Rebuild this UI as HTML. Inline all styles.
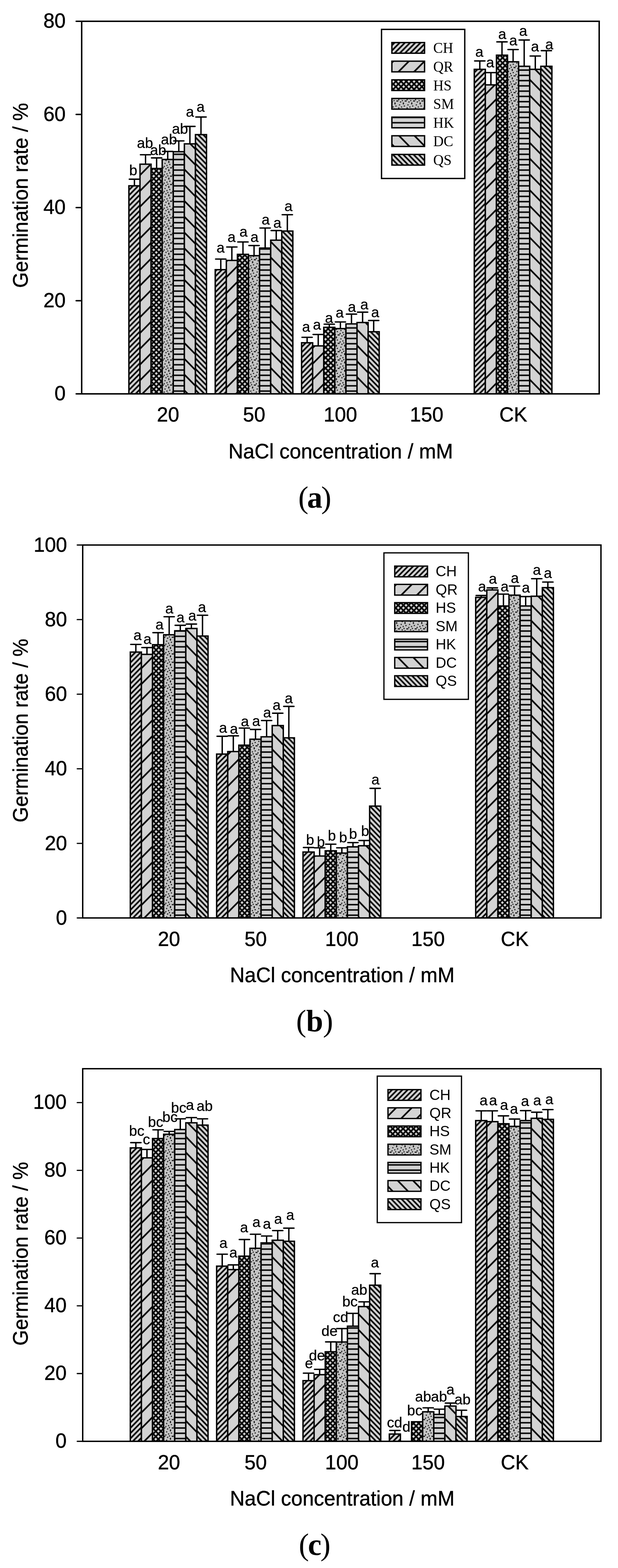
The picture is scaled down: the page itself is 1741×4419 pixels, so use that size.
<!DOCTYPE html>
<html lang="en"><head><meta charset="utf-8"><title>Germination rate under NaCl concentration</title>
<style>html,body{margin:0;padding:0;background:#fff}svg{display:block}text{font-family:"Liberation Sans",Arial,sans-serif;fill:#000}.ser{font-family:"Liberation Serif","Times New Roman",serif}</style></head><body>
<svg width="1741" height="4419" viewBox="0 0 1741 4419">
<rect x="0" y="0" width="1741" height="4419" fill="#fff"/>
<defs><pattern id="aCH" patternUnits="userSpaceOnUse" x="0" y="13.07" width="14.669" height="14.830"><rect width="14.669" height="14.830" fill="#d3d3d3"/><path d="M-14.67 14.83L29.34 -29.66M-14.67 29.66L29.34 -14.83M-14.67 44.49L29.34 0.00" stroke="#000" stroke-width="4.5" fill="none"/></pattern><pattern id="aQR" patternUnits="userSpaceOnUse" x="0" y="2.49" width="44.006" height="44.490"><rect width="44.006" height="44.490" fill="#d3d3d3"/><path d="M-44.01 44.49L88.01 -88.98M-44.01 88.98L88.01 -44.49M-44.01 133.47L88.01 0.00" stroke="#000" stroke-width="4.6" fill="none"/></pattern><pattern id="aHS" patternUnits="userSpaceOnUse" x="0" y="7.25" width="14.669" height="14.830"><rect width="14.669" height="14.830" fill="#d3d3d3"/><path d="M-14.67 14.83L29.34 -29.66M-14.67 29.66L29.34 -14.83M-14.67 44.49L29.34 0.00" stroke="#000" stroke-width="4.4" fill="none"/></pattern><pattern id="aHS2" patternUnits="userSpaceOnUse" x="0" y="6.69" width="14.669" height="14.830"><path d="M-14.67 -29.66L29.34 14.83M-14.67 -14.83L29.34 29.66M-14.67 0.00L29.34 44.49" stroke="#000" stroke-width="4.4" fill="none"/></pattern><pattern id="aSM" patternUnits="userSpaceOnUse" x="9.40" y="22.59" width="23.6" height="23.55"><rect width="23.6" height="23.55" fill="#c4c4c4"/><path d="M0.50 1.50h3.0v3.00h-3.0zM21.40 1.50h3.0v3.00h-3.0zM-2.20 1.50h3.0v3.00h-3.0zM8.40 4.26h3.0v3.00h-3.0zM16.30 7.00h3.0v5.40h-3.0zM5.60 12.50h3.0v3.00h-3.0zM19.00 15.70h3.0v3.00h-3.0zM11.10 18.40h3.0v3.00h-3.0zM3.26 21.20h3.0v3.00h-3.0zM3.26 -2.35h3.0v3.00h-3.0zM13.50 0.45h3.0v3.00h-3.0z" fill="#000"/></pattern><pattern id="aHK" patternUnits="userSpaceOnUse" x="0" y="12.18" width="40" height="14.830"><rect width="40" height="14.830" fill="#d3d3d3"/><rect x="0" y="5.365" width="40" height="4.1" fill="#000"/></pattern><pattern id="aDC" patternUnits="userSpaceOnUse" x="0" y="36.20" width="43.596" height="44.490"><rect width="43.596" height="44.490" fill="#d3d3d3"/><path d="M-43.60 -88.98L87.19 44.49M-43.60 -44.49L87.19 88.98M-43.60 0.00L87.19 133.47" stroke="#000" stroke-width="4.6" fill="none"/></pattern><pattern id="aQS" patternUnits="userSpaceOnUse" x="0" y="3.02" width="14.532" height="14.830"><rect width="14.532" height="14.830" fill="#d3d3d3"/><path d="M-14.53 -29.66L29.06 14.83M-14.53 -14.83L29.06 29.66M-14.53 0.00L29.06 44.49" stroke="#000" stroke-width="4.5" fill="none"/></pattern><pattern id="bCH" patternUnits="userSpaceOnUse" x="0" y="14.32" width="14.669" height="14.830"><rect width="14.669" height="14.830" fill="#d3d3d3"/><path d="M-14.67 14.83L29.34 -29.66M-14.67 29.66L29.34 -14.83M-14.67 44.49L29.34 0.00" stroke="#000" stroke-width="4.5" fill="none"/></pattern><pattern id="bQR" patternUnits="userSpaceOnUse" x="0" y="17.15" width="44.006" height="44.490"><rect width="44.006" height="44.490" fill="#d3d3d3"/><path d="M-44.01 44.49L88.01 -88.98M-44.01 88.98L88.01 -44.49M-44.01 133.47L88.01 0.00" stroke="#000" stroke-width="4.6" fill="none"/></pattern><pattern id="bHS" patternUnits="userSpaceOnUse" x="0" y="7.47" width="14.669" height="14.830"><rect width="14.669" height="14.830" fill="#d3d3d3"/><path d="M-14.67 14.83L29.34 -29.66M-14.67 29.66L29.34 -14.83M-14.67 44.49L29.34 0.00" stroke="#000" stroke-width="4.4" fill="none"/></pattern><pattern id="bHS2" patternUnits="userSpaceOnUse" x="0" y="8.13" width="14.669" height="14.830"><path d="M-14.67 -29.66L29.34 14.83M-14.67 -14.83L29.34 29.66M-14.67 0.00L29.34 44.49" stroke="#000" stroke-width="4.4" fill="none"/></pattern><pattern id="bSM" patternUnits="userSpaceOnUse" x="14.00" y="3.13" width="23.6" height="23.55"><rect width="23.6" height="23.55" fill="#c4c4c4"/><path d="M0.50 1.50h3.0v3.00h-3.0zM21.40 1.50h3.0v3.00h-3.0zM-2.20 1.50h3.0v3.00h-3.0zM8.40 4.26h3.0v3.00h-3.0zM16.30 7.00h3.0v5.40h-3.0zM5.60 12.50h3.0v3.00h-3.0zM19.00 15.70h3.0v3.00h-3.0zM11.10 18.40h3.0v3.00h-3.0zM3.26 21.20h3.0v3.00h-3.0zM3.26 -2.35h3.0v3.00h-3.0zM13.50 0.45h3.0v3.00h-3.0z" fill="#000"/></pattern><pattern id="bHK" patternUnits="userSpaceOnUse" x="0" y="6.24" width="40" height="14.830"><rect width="40" height="14.830" fill="#d3d3d3"/><rect x="0" y="5.365" width="40" height="4.1" fill="#000"/></pattern><pattern id="bDC" patternUnits="userSpaceOnUse" x="0" y="33.53" width="43.299" height="44.490"><rect width="43.299" height="44.490" fill="#d3d3d3"/><path d="M-43.30 -88.98L86.60 44.49M-43.30 -44.49L86.60 88.98M-43.30 0.00L86.60 133.47" stroke="#000" stroke-width="4.6" fill="none"/></pattern><pattern id="bQS" patternUnits="userSpaceOnUse" x="0" y="0.07" width="14.433" height="14.830"><rect width="14.433" height="14.830" fill="#d3d3d3"/><path d="M-14.43 -29.66L28.87 14.83M-14.43 -14.83L28.87 29.66M-14.43 0.00L28.87 44.49" stroke="#000" stroke-width="4.5" fill="none"/></pattern><pattern id="cCH" patternUnits="userSpaceOnUse" x="0" y="5.94" width="14.669" height="14.830"><rect width="14.669" height="14.830" fill="#d3d3d3"/><path d="M-14.67 14.83L29.34 -29.66M-14.67 29.66L29.34 -14.83M-14.67 44.49L29.34 0.00" stroke="#000" stroke-width="4.5" fill="none"/></pattern><pattern id="cQR" patternUnits="userSpaceOnUse" x="0" y="23.75" width="44.006" height="44.490"><rect width="44.006" height="44.490" fill="#d3d3d3"/><path d="M-44.01 44.49L88.01 -88.98M-44.01 88.98L88.01 -44.49M-44.01 133.47L88.01 0.00" stroke="#000" stroke-width="4.6" fill="none"/></pattern><pattern id="cHS" patternUnits="userSpaceOnUse" x="0" y="13.41" width="14.669" height="14.830"><rect width="14.669" height="14.830" fill="#d3d3d3"/><path d="M-14.67 14.83L29.34 -29.66M-14.67 29.66L29.34 -14.83M-14.67 44.49L29.34 0.00" stroke="#000" stroke-width="4.4" fill="none"/></pattern><pattern id="cHS2" patternUnits="userSpaceOnUse" x="0" y="1.16" width="14.669" height="14.830"><path d="M-14.67 -29.66L29.34 14.83M-14.67 -14.83L29.34 29.66M-14.67 0.00L29.34 44.49" stroke="#000" stroke-width="4.4" fill="none"/></pattern><pattern id="cSM" patternUnits="userSpaceOnUse" x="14.00" y="17.90" width="23.6" height="23.55"><rect width="23.6" height="23.55" fill="#c4c4c4"/><path d="M0.50 1.50h3.0v3.00h-3.0zM21.40 1.50h3.0v3.00h-3.0zM-2.20 1.50h3.0v3.00h-3.0zM8.40 4.26h3.0v3.00h-3.0zM16.30 7.00h3.0v5.40h-3.0zM5.60 12.50h3.0v3.00h-3.0zM19.00 15.70h3.0v3.00h-3.0zM11.10 18.40h3.0v3.00h-3.0zM3.26 21.20h3.0v3.00h-3.0zM3.26 -2.35h3.0v3.00h-3.0zM13.50 0.45h3.0v3.00h-3.0z" fill="#000"/></pattern><pattern id="cHK" patternUnits="userSpaceOnUse" x="0" y="12.97" width="40" height="14.830"><rect width="40" height="14.830" fill="#d3d3d3"/><rect x="0" y="5.365" width="40" height="4.1" fill="#000"/></pattern><pattern id="cDC" patternUnits="userSpaceOnUse" x="0" y="40.53" width="43.299" height="44.490"><rect width="43.299" height="44.490" fill="#d3d3d3"/><path d="M-43.30 -88.98L86.60 44.49M-43.30 -44.49L86.60 88.98M-43.30 0.00L86.60 133.47" stroke="#000" stroke-width="4.6" fill="none"/></pattern><pattern id="cQS" patternUnits="userSpaceOnUse" x="0" y="7.13" width="14.433" height="14.830"><rect width="14.433" height="14.830" fill="#d3d3d3"/><path d="M-14.43 -29.66L28.87 14.83M-14.43 -14.83L28.87 29.66M-14.43 0.00L28.87 44.49" stroke="#000" stroke-width="4.5" fill="none"/></pattern></defs>
<g>
<path d="M378.7 523.6V505M364.2 505H393.2" stroke="#000" stroke-width="3.9" stroke-linecap="round" fill="none"/>
<rect x="363.1" y="523.6" width="31.2" height="586.4" fill="url(#aCH)" stroke="#000" stroke-width="3.9"/>
<path d="M622 760V730.1M607.4 730.1H636.5" stroke="#000" stroke-width="3.9" stroke-linecap="round" fill="none"/>
<rect x="606.3" y="760" width="31.2" height="350" fill="url(#aCH)" stroke="#000" stroke-width="3.9"/>
<path d="M865.2 966V950.6M850.7 950.6H879.7" stroke="#000" stroke-width="3.9" stroke-linecap="round" fill="none"/>
<rect x="849.6" y="966" width="31.2" height="144" fill="url(#aCH)" stroke="#000" stroke-width="3.9"/>
<path d="M1351.7 195.4V171.8M1337.2 171.8H1366.2" stroke="#000" stroke-width="3.9" stroke-linecap="round" fill="none"/>
<rect x="1336.1" y="195.4" width="31.2" height="914.5" fill="url(#aCH)" stroke="#000" stroke-width="3.9"/>
<path d="M410 462.7V436.1M395.5 436.1H424.5" stroke="#000" stroke-width="3.9" stroke-linecap="round" fill="none"/>
<rect x="394.4" y="462.7" width="31.2" height="647.2" fill="url(#aQR)" stroke="#000" stroke-width="3.9"/>
<path d="M653.2 733.9V696.1M638.7 696.1H667.7" stroke="#000" stroke-width="3.9" stroke-linecap="round" fill="none"/>
<rect x="637.6" y="733.9" width="31.2" height="376" fill="url(#aQR)" stroke="#000" stroke-width="3.9"/>
<path d="M896.5 974.8V942.6M881.9 942.6H911" stroke="#000" stroke-width="3.9" stroke-linecap="round" fill="none"/>
<rect x="880.8" y="974.8" width="31.2" height="135.1" fill="url(#aQR)" stroke="#000" stroke-width="3.9"/>
<path d="M1383 239.2V204.6M1368.4 204.6H1397.5" stroke="#000" stroke-width="3.9" stroke-linecap="round" fill="none"/>
<rect x="1367.3" y="239.2" width="31.2" height="870.8" fill="url(#aQR)" stroke="#000" stroke-width="3.9"/>
<path d="M441.2 474.8V445M426.7 445H455.8" stroke="#000" stroke-width="3.9" stroke-linecap="round" fill="none"/>
<rect x="425.6" y="474.8" width="31.2" height="635.1" fill="url(#aHS)"/>
<rect x="425.6" y="474.8" width="31.2" height="635.1" fill="url(#aHS2)" stroke="#000" stroke-width="3.9"/>
<path d="M684.5 716.8V681.9M669.9 681.9H699" stroke="#000" stroke-width="3.9" stroke-linecap="round" fill="none"/>
<rect x="668.8" y="716.8" width="31.2" height="393.2" fill="url(#aHS)"/>
<rect x="668.8" y="716.8" width="31.2" height="393.2" fill="url(#aHS2)" stroke="#000" stroke-width="3.9"/>
<path d="M927.7 922.5V913.6M913.2 913.6H942.2" stroke="#000" stroke-width="3.9" stroke-linecap="round" fill="none"/>
<rect x="912.1" y="922.5" width="31.2" height="187.4" fill="url(#aHS)"/>
<rect x="912.1" y="922.5" width="31.2" height="187.4" fill="url(#aHS2)" stroke="#000" stroke-width="3.9"/>
<path d="M1414.2 155.5V118M1399.7 118H1428.7" stroke="#000" stroke-width="3.9" stroke-linecap="round" fill="none"/>
<rect x="1398.6" y="155.5" width="31.2" height="954.4" fill="url(#aHS)"/>
<rect x="1398.6" y="155.5" width="31.2" height="954.4" fill="url(#aHS2)" stroke="#000" stroke-width="3.9"/>
<path d="M472.5 449.4V426.7M458 426.7H487" stroke="#000" stroke-width="3.9" stroke-linecap="round" fill="none"/>
<rect x="456.9" y="449.4" width="31.2" height="660.5" fill="url(#aSM)" stroke="#000" stroke-width="3.9"/>
<path d="M715.7 720.6V692M701.2 692H730.2" stroke="#000" stroke-width="3.9" stroke-linecap="round" fill="none"/>
<rect x="700.1" y="720.6" width="31.2" height="389.3" fill="url(#aSM)" stroke="#000" stroke-width="3.9"/>
<path d="M959 926.1V907.4M944.4 907.4H973.5" stroke="#000" stroke-width="3.9" stroke-linecap="round" fill="none"/>
<rect x="943.3" y="926.1" width="31.2" height="183.9" fill="url(#aSM)" stroke="#000" stroke-width="3.9"/>
<path d="M1445.5 174.1V139.6M1430.9 139.6H1460" stroke="#000" stroke-width="3.9" stroke-linecap="round" fill="none"/>
<rect x="1429.8" y="174.1" width="31.2" height="935.8" fill="url(#aSM)" stroke="#000" stroke-width="3.9"/>
<path d="M503.7 427.5V397.1M489.2 397.1H518.2" stroke="#000" stroke-width="3.9" stroke-linecap="round" fill="none"/>
<rect x="488.1" y="427.5" width="31.2" height="682.4" fill="url(#aHK)" stroke="#000" stroke-width="3.9"/>
<path d="M747 699.1V642.6M732.4 642.6H761.5" stroke="#000" stroke-width="3.9" stroke-linecap="round" fill="none"/>
<rect x="731.3" y="699.1" width="31.2" height="410.9" fill="url(#aHK)" stroke="#000" stroke-width="3.9"/>
<path d="M990.2 912.8V885.3M975.7 885.3H1004.7" stroke="#000" stroke-width="3.9" stroke-linecap="round" fill="none"/>
<rect x="974.6" y="912.8" width="31.2" height="197.2" fill="url(#aHK)" stroke="#000" stroke-width="3.9"/>
<path d="M1476.7 186.8V112.7M1462.2 112.7H1491.2" stroke="#000" stroke-width="3.9" stroke-linecap="round" fill="none"/>
<rect x="1461.1" y="186.8" width="31.2" height="923.1" fill="url(#aHK)" stroke="#000" stroke-width="3.9"/>
<path d="M535 405.4V356.3M520.5 356.3H549.5" stroke="#000" stroke-width="3.9" stroke-linecap="round" fill="none"/>
<rect x="519.4" y="405.4" width="31.2" height="704.6" fill="url(#aDC)" stroke="#000" stroke-width="3.9"/>
<path d="M778.2 676.9V649.7M763.7 649.7H792.7" stroke="#000" stroke-width="3.9" stroke-linecap="round" fill="none"/>
<rect x="762.6" y="676.9" width="31.2" height="433.1" fill="url(#aDC)" stroke="#000" stroke-width="3.9"/>
<path d="M1021.5 908.9V879.7M1006.9 879.7H1036" stroke="#000" stroke-width="3.9" stroke-linecap="round" fill="none"/>
<rect x="1005.8" y="908.9" width="31.3" height="201" fill="url(#aDC)" stroke="#000" stroke-width="3.9"/>
<path d="M1508 195.4V157.9M1493.4 157.9H1522.5" stroke="#000" stroke-width="3.9" stroke-linecap="round" fill="none"/>
<rect x="1492.3" y="195.4" width="31.2" height="914.5" fill="url(#aDC)" stroke="#000" stroke-width="3.9"/>
<path d="M566.2 379.4V329.7M551.7 329.7H580.8" stroke="#000" stroke-width="3.9" stroke-linecap="round" fill="none"/>
<rect x="550.6" y="379.4" width="31.2" height="730.6" fill="url(#aQS)" stroke="#000" stroke-width="3.9"/>
<path d="M809.5 651.2V605.1M794.9 605.1H824" stroke="#000" stroke-width="3.9" stroke-linecap="round" fill="none"/>
<rect x="793.8" y="651.2" width="31.2" height="458.8" fill="url(#aQS)" stroke="#000" stroke-width="3.9"/>
<path d="M1052.7 934.9V903.3M1038.2 903.3H1067.2" stroke="#000" stroke-width="3.9" stroke-linecap="round" fill="none"/>
<rect x="1037.1" y="934.9" width="31.2" height="175" fill="url(#aQS)" stroke="#000" stroke-width="3.9"/>
<path d="M1539.2 186.8V142.8M1524.7 142.8H1553.7" stroke="#000" stroke-width="3.9" stroke-linecap="round" fill="none"/>
<rect x="1523.6" y="186.8" width="31.2" height="923.1" fill="url(#aQS)" stroke="#000" stroke-width="3.9"/>
<rect x="230.1" y="60" width="1457.9" height="1050" fill="none" stroke="#000" stroke-width="4.1"/>
<path d="M214.6 1110H230.1" stroke="#000" stroke-width="4.1" stroke-linecap="round"/>
<text x="185" y="1128.4" font-size="56.5" text-anchor="end" stroke="#000" stroke-width="0.7">0</text>
<path d="M214.6 847.5H230.1" stroke="#000" stroke-width="4.1" stroke-linecap="round"/>
<text x="185" y="865.9" font-size="56.5" text-anchor="end" stroke="#000" stroke-width="0.7">20</text>
<path d="M214.6 585H230.1" stroke="#000" stroke-width="4.1" stroke-linecap="round"/>
<text x="185" y="603.4" font-size="56.5" text-anchor="end" stroke="#000" stroke-width="0.7">40</text>
<path d="M214.6 322.5H230.1" stroke="#000" stroke-width="4.1" stroke-linecap="round"/>
<text x="185" y="340.9" font-size="56.5" text-anchor="end" stroke="#000" stroke-width="0.7">60</text>
<path d="M214.6 60H230.1" stroke="#000" stroke-width="4.1" stroke-linecap="round"/>
<text x="185" y="78.4" font-size="56.5" text-anchor="end" stroke="#000" stroke-width="0.7">80</text>
<text x="473.4" y="1188.3" font-size="56.5" text-anchor="middle" stroke="#000" stroke-width="0.7">20</text>
<text x="716" y="1188.3" font-size="56.5" text-anchor="middle" stroke="#000" stroke-width="0.7">50</text>
<text x="959" y="1188.3" font-size="56.5" text-anchor="middle" stroke="#000" stroke-width="0.7">100</text>
<text x="1202" y="1188.3" font-size="56.5" text-anchor="middle" stroke="#000" stroke-width="0.7">150</text>
<text x="1446" y="1188.3" font-size="56.5" text-anchor="middle" stroke="#000" stroke-width="0.7">CK</text>
<text transform="translate(959.9 1291.8) scale(0.983 1)" font-size="58.5" text-anchor="middle" stroke="#000" stroke-width="0.7">NaCl concentration / mM</text>
<text transform="translate(78.4 550.5) rotate(-90) scale(0.972 1)" font-size="58.5" text-anchor="middle" stroke="#000" stroke-width="0.7">Germination rate / %</text>
<text x="375.5" y="494.2" font-size="41" text-anchor="middle" stroke="#000" stroke-width="0.4">b</text>
<text x="408.6" y="417.3" font-size="41" text-anchor="middle" stroke="#000" stroke-width="0.4">ab</text>
<text x="445.5" y="436.5" font-size="41" text-anchor="middle" stroke="#000" stroke-width="0.4">ab</text>
<text x="476" y="407" font-size="41" text-anchor="middle" stroke="#000" stroke-width="0.4">ab</text>
<text x="507" y="376.8" font-size="41" text-anchor="middle" stroke="#000" stroke-width="0.4">ab</text>
<text x="535.1" y="329.2" font-size="41" text-anchor="middle" stroke="#000" stroke-width="0.4">a</text>
<text x="565.2" y="315.3" font-size="41" text-anchor="middle" stroke="#000" stroke-width="0.4">a</text>
<text x="621.4" y="711.9" font-size="41" text-anchor="middle" stroke="#000" stroke-width="0.4">a</text>
<text x="652.4" y="682.3" font-size="41" text-anchor="middle" stroke="#000" stroke-width="0.4">a</text>
<text x="685.8" y="667" font-size="41" text-anchor="middle" stroke="#000" stroke-width="0.4">a</text>
<text x="716.8" y="681.7" font-size="41" text-anchor="middle" stroke="#000" stroke-width="0.4">a</text>
<text x="748.5" y="633" font-size="41" text-anchor="middle" stroke="#000" stroke-width="0.4">a</text>
<text x="781.3" y="641.8" font-size="41" text-anchor="middle" stroke="#000" stroke-width="0.4">a</text>
<text x="812.6" y="595.4" font-size="41" text-anchor="middle" stroke="#000" stroke-width="0.4">a</text>
<text x="862.3" y="935" font-size="41" text-anchor="middle" stroke="#000" stroke-width="0.4">a</text>
<text x="893" y="928.5" font-size="41" text-anchor="middle" stroke="#000" stroke-width="0.4">a</text>
<text x="927" y="910.2" font-size="41" text-anchor="middle" stroke="#000" stroke-width="0.4">a</text>
<text x="956.8" y="894.5" font-size="41" text-anchor="middle" stroke="#000" stroke-width="0.4">a</text>
<text x="991.4" y="878.9" font-size="41" text-anchor="middle" stroke="#000" stroke-width="0.4">a</text>
<text x="1026.3" y="871.8" font-size="41" text-anchor="middle" stroke="#000" stroke-width="0.4">a</text>
<text x="1057" y="894.3" font-size="41" text-anchor="middle" stroke="#000" stroke-width="0.4">a</text>
<text x="1350.5" y="159.8" font-size="41" text-anchor="middle" stroke="#000" stroke-width="0.4">a</text>
<text x="1380.9" y="189.9" font-size="41" text-anchor="middle" stroke="#000" stroke-width="0.4">a</text>
<text x="1414.9" y="110.1" font-size="41" text-anchor="middle" stroke="#000" stroke-width="0.4">a</text>
<text x="1446" y="128.4" font-size="41" text-anchor="middle" stroke="#000" stroke-width="0.4">a</text>
<text x="1474" y="101.2" font-size="41" text-anchor="middle" stroke="#000" stroke-width="0.4">a</text>
<text x="1507.1" y="144.7" font-size="41" text-anchor="middle" stroke="#000" stroke-width="0.4">a</text>
<text x="1547.3" y="138.8" font-size="41" text-anchor="middle" stroke="#000" stroke-width="0.4">a</text>
<rect x="1074.8" y="82.8" width="234.5" height="420.2" fill="#fff" stroke="#000" stroke-width="3.8"/>
<rect x="1104" y="119.9" width="92.1" height="30.1" fill="url(#aCH)" stroke="#000" stroke-width="3.8"/>
<text class="ser" transform="translate(1220.5 149.4) scale(0.955 1)" font-size="42.5">CH</text>
<rect x="1104" y="172.4" width="92.1" height="30.1" fill="url(#aQR)" stroke="#000" stroke-width="3.8"/>
<text class="ser" transform="translate(1220.5 201.9) scale(0.955 1)" font-size="42.5">QR</text>
<rect x="1104" y="225" width="92.1" height="30.1" fill="url(#aHS)"/>
<rect x="1104" y="225" width="92.1" height="30.1" fill="url(#aHS2)" stroke="#000" stroke-width="3.8"/>
<text class="ser" transform="translate(1220.5 254.5) scale(0.955 1)" font-size="42.5">HS</text>
<rect x="1104" y="277.5" width="92.1" height="30.1" fill="url(#aSM)" stroke="#000" stroke-width="3.8"/>
<text class="ser" transform="translate(1220.5 307) scale(0.955 1)" font-size="42.5">SM</text>
<rect x="1104" y="330.1" width="92.1" height="30.1" fill="url(#aHK)" stroke="#000" stroke-width="3.8"/>
<text class="ser" transform="translate(1220.5 359.6) scale(0.955 1)" font-size="42.5">HK</text>
<rect x="1104" y="382.6" width="92.1" height="30.1" fill="url(#aDC)" stroke="#000" stroke-width="3.8"/>
<text class="ser" transform="translate(1220.5 412.1) scale(0.955 1)" font-size="42.5">DC</text>
<rect x="1104" y="435.2" width="92.1" height="30.1" fill="url(#aQS)" stroke="#000" stroke-width="3.8"/>
<text class="ser" transform="translate(1220.5 464.7) scale(0.955 1)" font-size="42.5">QS</text>
<text class="ser" x="886.8" y="1431" font-size="86" text-anchor="middle">(<tspan font-weight="bold" dx="-3.5">a</tspan><tspan dx="-3.5">)</tspan></text>
</g>
<g>
<path d="M382.7 1837.7V1816.1M368.2 1816.1H397.3" stroke="#000" stroke-width="3.9" stroke-linecap="round" fill="none"/>
<rect x="367.1" y="1837.7" width="31.3" height="749.3" fill="url(#bCH)" stroke="#000" stroke-width="3.9"/>
<path d="M626 2125.2V2075M611.4 2075H640.5" stroke="#000" stroke-width="3.9" stroke-linecap="round" fill="none"/>
<rect x="610.3" y="2125.2" width="31.3" height="461.7" fill="url(#bCH)" stroke="#000" stroke-width="3.9"/>
<path d="M869.2 2401.2V2388.5M854.7 2388.5H883.8" stroke="#000" stroke-width="3.9" stroke-linecap="round" fill="none"/>
<rect x="853.6" y="2401.2" width="31.3" height="185.7" fill="url(#bCH)" stroke="#000" stroke-width="3.9"/>
<path d="M1355.7 1683.5V1678.2M1341.2 1678.2H1370.3" stroke="#000" stroke-width="3.9" stroke-linecap="round" fill="none"/>
<rect x="1340.1" y="1683.5" width="31.3" height="903.4" fill="url(#bCH)" stroke="#000" stroke-width="3.9"/>
<path d="M414 1844.2V1825M399.5 1825H428.6" stroke="#000" stroke-width="3.9" stroke-linecap="round" fill="none"/>
<rect x="398.4" y="1844.2" width="31.3" height="742.8" fill="url(#bQR)" stroke="#000" stroke-width="3.9"/>
<path d="M657.3 2118.1V2073.8M642.7 2073.8H671.8" stroke="#000" stroke-width="3.9" stroke-linecap="round" fill="none"/>
<rect x="641.6" y="2118.1" width="31.3" height="468.8" fill="url(#bQR)" stroke="#000" stroke-width="3.9"/>
<path d="M900.5 2412.5V2389.4M886 2389.4H915.1" stroke="#000" stroke-width="3.9" stroke-linecap="round" fill="none"/>
<rect x="884.9" y="2412.5" width="31.3" height="174.5" fill="url(#bQR)" stroke="#000" stroke-width="3.9"/>
<path d="M1387 1662.6V1656.7M1372.5 1656.7H1401.5" stroke="#000" stroke-width="3.9" stroke-linecap="round" fill="none"/>
<rect x="1371.4" y="1662.6" width="31.3" height="924.4" fill="url(#bQR)" stroke="#000" stroke-width="3.9"/>
<path d="M445.3 1817V1783M430.8 1783H459.9" stroke="#000" stroke-width="3.9" stroke-linecap="round" fill="none"/>
<rect x="429.7" y="1817" width="31.3" height="770" fill="url(#bHS)"/>
<rect x="429.7" y="1817" width="31.3" height="770" fill="url(#bHS2)" stroke="#000" stroke-width="3.9"/>
<path d="M688.6 2100.1V2051.9M674 2051.9H703.1" stroke="#000" stroke-width="3.9" stroke-linecap="round" fill="none"/>
<rect x="672.9" y="2100.1" width="31.3" height="486.9" fill="url(#bHS)"/>
<rect x="672.9" y="2100.1" width="31.3" height="486.9" fill="url(#bHS2)" stroke="#000" stroke-width="3.9"/>
<path d="M931.8 2397.7V2379.1M917.3 2379.1H946.3" stroke="#000" stroke-width="3.9" stroke-linecap="round" fill="none"/>
<rect x="916.2" y="2397.7" width="31.3" height="189.3" fill="url(#bHS)"/>
<rect x="916.2" y="2397.7" width="31.3" height="189.3" fill="url(#bHS2)" stroke="#000" stroke-width="3.9"/>
<path d="M1418.3 1707.8V1674.4M1403.7 1674.4H1432.8" stroke="#000" stroke-width="3.9" stroke-linecap="round" fill="none"/>
<rect x="1402.6" y="1707.8" width="31.3" height="879.2" fill="url(#bHS)"/>
<rect x="1402.6" y="1707.8" width="31.3" height="879.2" fill="url(#bHS2)" stroke="#000" stroke-width="3.9"/>
<path d="M476.6 1788.9V1738.1M462.1 1738.1H491.1" stroke="#000" stroke-width="3.9" stroke-linecap="round" fill="none"/>
<rect x="461" y="1788.9" width="31.3" height="798" fill="url(#bSM)" stroke="#000" stroke-width="3.9"/>
<path d="M719.8 2083.3V2055.8M705.3 2055.8H734.4" stroke="#000" stroke-width="3.9" stroke-linecap="round" fill="none"/>
<rect x="704.2" y="2083.3" width="31.3" height="503.7" fill="url(#bSM)" stroke="#000" stroke-width="3.9"/>
<path d="M963.1 2404.2V2389.4M948.5 2389.4H977.6" stroke="#000" stroke-width="3.9" stroke-linecap="round" fill="none"/>
<rect x="947.4" y="2404.2" width="31.3" height="182.8" fill="url(#bSM)" stroke="#000" stroke-width="3.9"/>
<path d="M1449.6 1677.3V1651.6M1435 1651.6H1464.1" stroke="#000" stroke-width="3.9" stroke-linecap="round" fill="none"/>
<rect x="1433.9" y="1677.3" width="31.3" height="909.6" fill="url(#bSM)" stroke="#000" stroke-width="3.9"/>
<path d="M507.9 1777.7V1762.3M493.3 1762.3H522.4" stroke="#000" stroke-width="3.9" stroke-linecap="round" fill="none"/>
<rect x="492.2" y="1777.7" width="31.3" height="809.3" fill="url(#bHK)" stroke="#000" stroke-width="3.9"/>
<path d="M751.1 2076.5V2030.6M736.6 2030.6H765.7" stroke="#000" stroke-width="3.9" stroke-linecap="round" fill="none"/>
<rect x="735.5" y="2076.5" width="31.3" height="510.5" fill="url(#bHK)" stroke="#000" stroke-width="3.9"/>
<path d="M994.4 2386.5V2374.6M979.8 2374.6H1008.9" stroke="#000" stroke-width="3.9" stroke-linecap="round" fill="none"/>
<rect x="978.7" y="2386.5" width="31.3" height="200.5" fill="url(#bHK)" stroke="#000" stroke-width="3.9"/>
<path d="M1480.9 1707.8V1681.2M1466.3 1681.2H1495.4" stroke="#000" stroke-width="3.9" stroke-linecap="round" fill="none"/>
<rect x="1465.2" y="1707.8" width="31.3" height="879.2" fill="url(#bHK)" stroke="#000" stroke-width="3.9"/>
<path d="M539.2 1771.2V1758.8M524.6 1758.8H553.7" stroke="#000" stroke-width="3.9" stroke-linecap="round" fill="none"/>
<rect x="523.5" y="1771.2" width="31.3" height="815.8" fill="url(#bDC)" stroke="#000" stroke-width="3.9"/>
<path d="M782.4 2044.8V2010M767.9 2010H797" stroke="#000" stroke-width="3.9" stroke-linecap="round" fill="none"/>
<rect x="766.8" y="2044.8" width="31.3" height="542.1" fill="url(#bDC)" stroke="#000" stroke-width="3.9"/>
<path d="M1025.7 2383.5V2368.7M1011.1 2368.7H1040.2" stroke="#000" stroke-width="3.9" stroke-linecap="round" fill="none"/>
<rect x="1010" y="2383.5" width="31.3" height="203.5" fill="url(#bDC)" stroke="#000" stroke-width="3.9"/>
<path d="M1512.1 1680.3V1630.9M1497.6 1630.9H1526.7" stroke="#000" stroke-width="3.9" stroke-linecap="round" fill="none"/>
<rect x="1496.5" y="1680.3" width="31.3" height="906.7" fill="url(#bDC)" stroke="#000" stroke-width="3.9"/>
<path d="M570.5 1792.5V1733.9M555.9 1733.9H585" stroke="#000" stroke-width="3.9" stroke-linecap="round" fill="none"/>
<rect x="554.8" y="1792.5" width="31.3" height="794.5" fill="url(#bQS)" stroke="#000" stroke-width="3.9"/>
<path d="M813.7 2079.4V1990.7M799.2 1990.7H828.2" stroke="#000" stroke-width="3.9" stroke-linecap="round" fill="none"/>
<rect x="798.1" y="2079.4" width="31.3" height="507.6" fill="url(#bQS)" stroke="#000" stroke-width="3.9"/>
<path d="M1056.9 2271.8V2221.8M1042.4 2221.8H1071.5" stroke="#000" stroke-width="3.9" stroke-linecap="round" fill="none"/>
<rect x="1041.3" y="2271.8" width="31.3" height="315.2" fill="url(#bQS)" stroke="#000" stroke-width="3.9"/>
<path d="M1543.4 1656.1V1640.4M1528.9 1640.4H1558" stroke="#000" stroke-width="3.9" stroke-linecap="round" fill="none"/>
<rect x="1527.8" y="1656.1" width="31.3" height="930.9" fill="url(#bQS)" stroke="#000" stroke-width="3.9"/>
<rect x="233" y="1536" width="1460" height="1051" fill="none" stroke="#000" stroke-width="3.9"/>
<path d="M217.5 2587H233" stroke="#000" stroke-width="3.3" stroke-linecap="round"/>
<text x="189" y="2605.7" font-size="56.5" text-anchor="end" stroke="#000" stroke-width="0.7">0</text>
<path d="M217.5 2376.8H233" stroke="#000" stroke-width="3.3" stroke-linecap="round"/>
<text x="189" y="2395.5" font-size="56.5" text-anchor="end" stroke="#000" stroke-width="0.7">20</text>
<path d="M217.5 2166.6H233" stroke="#000" stroke-width="3.3" stroke-linecap="round"/>
<text x="189" y="2185.3" font-size="56.5" text-anchor="end" stroke="#000" stroke-width="0.7">40</text>
<path d="M217.5 1956.4H233" stroke="#000" stroke-width="3.3" stroke-linecap="round"/>
<text x="189" y="1975.1" font-size="56.5" text-anchor="end" stroke="#000" stroke-width="0.7">60</text>
<path d="M217.5 1746.2H233" stroke="#000" stroke-width="3.3" stroke-linecap="round"/>
<text x="189" y="1764.9" font-size="56.5" text-anchor="end" stroke="#000" stroke-width="0.7">80</text>
<path d="M217.5 1536H233" stroke="#000" stroke-width="3.3" stroke-linecap="round"/>
<text x="189" y="1554.7" font-size="56.5" text-anchor="end" stroke="#000" stroke-width="0.7">100</text>
<text x="476.1" y="2666.1" font-size="56.5" text-anchor="middle" stroke="#000" stroke-width="0.7">20</text>
<text x="720.2" y="2666.1" font-size="56.5" text-anchor="middle" stroke="#000" stroke-width="0.7">50</text>
<text x="963" y="2666.1" font-size="56.5" text-anchor="middle" stroke="#000" stroke-width="0.7">100</text>
<text x="1206" y="2666.1" font-size="56.5" text-anchor="middle" stroke="#000" stroke-width="0.7">150</text>
<text x="1450" y="2666.1" font-size="56.5" text-anchor="middle" stroke="#000" stroke-width="0.7">CK</text>
<text transform="translate(964.2 2768) scale(0.983 1)" font-size="58.5" text-anchor="middle" stroke="#000" stroke-width="0.7">NaCl concentration / mM</text>
<text transform="translate(78.4 2058.9) rotate(-90) scale(0.965 1)" font-size="58.5" text-anchor="middle" stroke="#000" stroke-width="0.7">Germination rate / %</text>
<text x="387.3" y="1803.8" font-size="41" text-anchor="middle" stroke="#000" stroke-width="0.4">a</text>
<text x="415.4" y="1815" font-size="41" text-anchor="middle" stroke="#000" stroke-width="0.4">a</text>
<text x="449.4" y="1774.3" font-size="41" text-anchor="middle" stroke="#000" stroke-width="0.4">a</text>
<text x="476.8" y="1728.7" font-size="41" text-anchor="middle" stroke="#000" stroke-width="0.4">a</text>
<text x="508.5" y="1753.6" font-size="41" text-anchor="middle" stroke="#000" stroke-width="0.4">a</text>
<text x="541.6" y="1749.4" font-size="41" text-anchor="middle" stroke="#000" stroke-width="0.4">a</text>
<text x="569.1" y="1724.9" font-size="41" text-anchor="middle" stroke="#000" stroke-width="0.4">a</text>
<text x="628.4" y="2065" font-size="41" text-anchor="middle" stroke="#000" stroke-width="0.4">a</text>
<text x="658.9" y="2068" font-size="41" text-anchor="middle" stroke="#000" stroke-width="0.4">a</text>
<text x="689.9" y="2047.3" font-size="41" text-anchor="middle" stroke="#000" stroke-width="0.4">a</text>
<text x="721.6" y="2046.4" font-size="41" text-anchor="middle" stroke="#000" stroke-width="0.4">a</text>
<text x="752.6" y="2022.2" font-size="41" text-anchor="middle" stroke="#000" stroke-width="0.4">a</text>
<text x="779.5" y="2000.6" font-size="41" text-anchor="middle" stroke="#000" stroke-width="0.4">a</text>
<text x="813.5" y="1981.7" font-size="41" text-anchor="middle" stroke="#000" stroke-width="0.4">a</text>
<text x="873.7" y="2380.7" font-size="41" text-anchor="middle" stroke="#000" stroke-width="0.4">b</text>
<text x="903.9" y="2386.9" font-size="41" text-anchor="middle" stroke="#000" stroke-width="0.4">b</text>
<text x="934.9" y="2369.1" font-size="41" text-anchor="middle" stroke="#000" stroke-width="0.4">b</text>
<text x="966.6" y="2374.2" font-size="41" text-anchor="middle" stroke="#000" stroke-width="0.4">b</text>
<text x="994.6" y="2364.4" font-size="41" text-anchor="middle" stroke="#000" stroke-width="0.4">b</text>
<text x="1028.6" y="2355.5" font-size="41" text-anchor="middle" stroke="#000" stroke-width="0.4">b</text>
<text x="1057.6" y="2211" font-size="41" text-anchor="middle" stroke="#000" stroke-width="0.4">a</text>
<text x="1358.2" y="1666.5" font-size="41" text-anchor="middle" stroke="#000" stroke-width="0.4">a</text>
<text x="1388.3" y="1644.6" font-size="41" text-anchor="middle" stroke="#000" stroke-width="0.4">a</text>
<text x="1421.7" y="1666.5" font-size="41" text-anchor="middle" stroke="#000" stroke-width="0.4">a</text>
<text x="1450.4" y="1643.2" font-size="41" text-anchor="middle" stroke="#000" stroke-width="0.4">a</text>
<text x="1481.4" y="1669.5" font-size="41" text-anchor="middle" stroke="#000" stroke-width="0.4">a</text>
<text x="1512.5" y="1620.1" font-size="41" text-anchor="middle" stroke="#000" stroke-width="0.4">a</text>
<text x="1543.5" y="1629" font-size="41" text-anchor="middle" stroke="#000" stroke-width="0.4">a</text>
<rect x="1081.6" y="1558.1" width="237.9" height="412.8" fill="#fff" stroke="#000" stroke-width="3.5"/>
<rect x="1112" y="1595.4" width="92.4" height="30.2" fill="url(#bCH)" stroke="#000" stroke-width="3.7"/>
<text transform="translate(1227.3 1624.1) scale(0.965 1)" font-size="42.8">CH</text>
<rect x="1112" y="1646.9" width="92.4" height="30.2" fill="url(#bQR)" stroke="#000" stroke-width="3.7"/>
<text transform="translate(1227.3 1675.6) scale(0.965 1)" font-size="42.8">QR</text>
<rect x="1112" y="1698.4" width="92.4" height="30.2" fill="url(#bHS)"/>
<rect x="1112" y="1698.4" width="92.4" height="30.2" fill="url(#bHS2)" stroke="#000" stroke-width="3.7"/>
<text transform="translate(1227.3 1727.1) scale(0.965 1)" font-size="42.8">HS</text>
<rect x="1112" y="1749.9" width="92.4" height="30.2" fill="url(#bSM)" stroke="#000" stroke-width="3.7"/>
<text transform="translate(1227.3 1778.6) scale(0.965 1)" font-size="42.8">SM</text>
<rect x="1112" y="1801.4" width="92.4" height="30.2" fill="url(#bHK)" stroke="#000" stroke-width="3.7"/>
<text transform="translate(1227.3 1830.1) scale(0.965 1)" font-size="42.8">HK</text>
<rect x="1112" y="1852.9" width="92.4" height="30.2" fill="url(#bDC)" stroke="#000" stroke-width="3.7"/>
<text transform="translate(1227.3 1881.6) scale(0.965 1)" font-size="42.8">DC</text>
<rect x="1112" y="1904.4" width="92.4" height="30.2" fill="url(#bQS)" stroke="#000" stroke-width="3.7"/>
<text transform="translate(1227.3 1933.1) scale(0.965 1)" font-size="42.8">QS</text>
<text class="ser" x="886.3" y="2906" font-size="86" text-anchor="middle">(<tspan font-weight="bold" dx="-0.5">b</tspan><tspan dx="-0.5">)</tspan></text>
</g>
<g>
<path d="M382.7 3235V3220.2M368.2 3220.2H397.3" stroke="#000" stroke-width="3.9" stroke-linecap="round" fill="none"/>
<rect x="367.1" y="3235" width="31.3" height="827" fill="url(#cCH)" stroke="#000" stroke-width="3.9"/>
<path d="M626 3568.3V3534.6M611.4 3534.6H640.5" stroke="#000" stroke-width="3.9" stroke-linecap="round" fill="none"/>
<rect x="610.3" y="3568.3" width="31.3" height="493.7" fill="url(#cCH)" stroke="#000" stroke-width="3.9"/>
<path d="M869.2 3891V3869.9M854.7 3869.9H883.8" stroke="#000" stroke-width="3.9" stroke-linecap="round" fill="none"/>
<rect x="853.6" y="3891" width="31.3" height="171" fill="url(#cCH)" stroke="#000" stroke-width="3.9"/>
<path d="M1112.5 4041.5V4031.4M1097.9 4031.4H1127" stroke="#000" stroke-width="3.9" stroke-linecap="round" fill="none"/>
<rect x="1096.8" y="4041.5" width="31.3" height="20.5" fill="url(#cCH)" stroke="#000" stroke-width="3.9"/>
<path d="M1355.7 3158.1V3130.6M1341.2 3130.6H1370.3" stroke="#000" stroke-width="3.9" stroke-linecap="round" fill="none"/>
<rect x="1340.1" y="3158.1" width="31.3" height="903.8" fill="url(#cCH)" stroke="#000" stroke-width="3.9"/>
<path d="M414 3263.1V3239.4M399.5 3239.4H428.6" stroke="#000" stroke-width="3.9" stroke-linecap="round" fill="none"/>
<rect x="398.4" y="3263.1" width="31.3" height="798.9" fill="url(#cQR)" stroke="#000" stroke-width="3.9"/>
<path d="M657.3 3578V3564.7M642.7 3564.7H671.8" stroke="#000" stroke-width="3.9" stroke-linecap="round" fill="none"/>
<rect x="641.6" y="3578" width="31.3" height="483.9" fill="url(#cQR)" stroke="#000" stroke-width="3.9"/>
<path d="M900.5 3874.2V3859.1M886 3859.1H915.1" stroke="#000" stroke-width="3.9" stroke-linecap="round" fill="none"/>
<rect x="884.9" y="3874.2" width="31.3" height="187.8" fill="url(#cQR)" stroke="#000" stroke-width="3.9"/>
<path d="M1387 3161.1V3130.6M1372.5 3130.6H1401.5" stroke="#000" stroke-width="3.9" stroke-linecap="round" fill="none"/>
<rect x="1371.4" y="3161.1" width="31.3" height="900.9" fill="url(#cQR)" stroke="#000" stroke-width="3.9"/>
<path d="M445.3 3208.7V3184.1M430.8 3184.1H459.9" stroke="#000" stroke-width="3.9" stroke-linecap="round" fill="none"/>
<rect x="429.7" y="3208.7" width="31.3" height="853.3" fill="url(#cHS)"/>
<rect x="429.7" y="3208.7" width="31.3" height="853.3" fill="url(#cHS2)" stroke="#000" stroke-width="3.9"/>
<path d="M688.6 3540.2V3493.2M674 3493.2H703.1" stroke="#000" stroke-width="3.9" stroke-linecap="round" fill="none"/>
<rect x="672.9" y="3540.2" width="31.3" height="521.8" fill="url(#cHS)"/>
<rect x="672.9" y="3540.2" width="31.3" height="521.8" fill="url(#cHS2)" stroke="#000" stroke-width="3.9"/>
<path d="M931.8 3809.6V3781.8M917.3 3781.8H946.3" stroke="#000" stroke-width="3.9" stroke-linecap="round" fill="none"/>
<rect x="916.2" y="3809.6" width="31.3" height="252.4" fill="url(#cHS)"/>
<rect x="916.2" y="3809.6" width="31.3" height="252.4" fill="url(#cHS2)" stroke="#000" stroke-width="3.9"/>
<rect x="1159.4" y="4006.9" width="31.3" height="55.1" fill="url(#cHS)"/>
<rect x="1159.4" y="4006.9" width="31.3" height="55.1" fill="url(#cHS2)" stroke="#000" stroke-width="3.9"/>
<path d="M1418.3 3167V3144.8M1403.7 3144.8H1432.8" stroke="#000" stroke-width="3.9" stroke-linecap="round" fill="none"/>
<rect x="1402.6" y="3167" width="31.3" height="895" fill="url(#cHS)"/>
<rect x="1402.6" y="3167" width="31.3" height="895" fill="url(#cHS2)" stroke="#000" stroke-width="3.9"/>
<path d="M476.6 3196.6V3188.6M462.1 3188.6H491.1" stroke="#000" stroke-width="3.9" stroke-linecap="round" fill="none"/>
<rect x="461" y="3196.6" width="31.3" height="865.4" fill="url(#cSM)" stroke="#000" stroke-width="3.9"/>
<path d="M719.8 3518V3478.4M705.3 3478.4H734.4" stroke="#000" stroke-width="3.9" stroke-linecap="round" fill="none"/>
<rect x="704.2" y="3518" width="31.3" height="543.9" fill="url(#cSM)" stroke="#000" stroke-width="3.9"/>
<path d="M963.1 3782.1V3744.2M948.5 3744.2H977.6" stroke="#000" stroke-width="3.9" stroke-linecap="round" fill="none"/>
<rect x="947.4" y="3782.1" width="31.3" height="279.9" fill="url(#cSM)" stroke="#000" stroke-width="3.9"/>
<path d="M1206.3 3978.8V3967.6M1191.8 3967.6H1220.9" stroke="#000" stroke-width="3.9" stroke-linecap="round" fill="none"/>
<rect x="1190.7" y="3978.8" width="31.3" height="83.1" fill="url(#cSM)" stroke="#000" stroke-width="3.9"/>
<path d="M1449.6 3174.4V3153.7M1435 3153.7H1464.1" stroke="#000" stroke-width="3.9" stroke-linecap="round" fill="none"/>
<rect x="1433.9" y="3174.4" width="31.3" height="887.6" fill="url(#cSM)" stroke="#000" stroke-width="3.9"/>
<path d="M507.9 3183.3V3153.1M493.3 3153.1H522.4" stroke="#000" stroke-width="3.9" stroke-linecap="round" fill="none"/>
<rect x="492.2" y="3183.3" width="31.3" height="878.7" fill="url(#cHK)" stroke="#000" stroke-width="3.9"/>
<path d="M751.1 3502.7V3483.4M736.6 3483.4H765.7" stroke="#000" stroke-width="3.9" stroke-linecap="round" fill="none"/>
<rect x="735.5" y="3502.7" width="31.3" height="559.3" fill="url(#cHK)" stroke="#000" stroke-width="3.9"/>
<path d="M994.4 3737.5V3701.4M979.8 3701.4H1008.9" stroke="#000" stroke-width="3.9" stroke-linecap="round" fill="none"/>
<rect x="978.7" y="3737.5" width="31.3" height="324.4" fill="url(#cHK)" stroke="#000" stroke-width="3.9"/>
<path d="M1237.6 3986.2V3971.4M1223.1 3971.4H1252.2" stroke="#000" stroke-width="3.9" stroke-linecap="round" fill="none"/>
<rect x="1222" y="3986.2" width="31.3" height="75.8" fill="url(#cHK)" stroke="#000" stroke-width="3.9"/>
<path d="M1480.9 3158.1V3130M1466.3 3130H1495.4" stroke="#000" stroke-width="3.9" stroke-linecap="round" fill="none"/>
<rect x="1465.2" y="3158.1" width="31.3" height="903.8" fill="url(#cHK)" stroke="#000" stroke-width="3.9"/>
<path d="M539.2 3164.3V3149.6M524.6 3149.6H553.7" stroke="#000" stroke-width="3.9" stroke-linecap="round" fill="none"/>
<rect x="523.5" y="3164.3" width="31.3" height="897.6" fill="url(#cDC)" stroke="#000" stroke-width="3.9"/>
<path d="M782.4 3495.3V3468.1M767.9 3468.1H797" stroke="#000" stroke-width="3.9" stroke-linecap="round" fill="none"/>
<rect x="766.8" y="3495.3" width="31.3" height="566.7" fill="url(#cDC)" stroke="#000" stroke-width="3.9"/>
<path d="M1025.7 3682.3V3668.9M1011.1 3668.9H1040.2" stroke="#000" stroke-width="3.9" stroke-linecap="round" fill="none"/>
<rect x="1010" y="3682.3" width="31.3" height="379.7" fill="url(#cDC)" stroke="#000" stroke-width="3.9"/>
<path d="M1268.9 3962.6V3954.3M1254.4 3954.3H1283.4" stroke="#000" stroke-width="3.9" stroke-linecap="round" fill="none"/>
<rect x="1253.3" y="3962.6" width="31.3" height="99.4" fill="url(#cDC)" stroke="#000" stroke-width="3.9"/>
<path d="M1512.1 3151.6V3134.5M1497.6 3134.5H1526.7" stroke="#000" stroke-width="3.9" stroke-linecap="round" fill="none"/>
<rect x="1496.5" y="3151.6" width="31.3" height="910.3" fill="url(#cDC)" stroke="#000" stroke-width="3.9"/>
<path d="M570.5 3170.8V3153.1M555.9 3153.1H585" stroke="#000" stroke-width="3.9" stroke-linecap="round" fill="none"/>
<rect x="554.8" y="3170.8" width="31.3" height="891.1" fill="url(#cQS)" stroke="#000" stroke-width="3.9"/>
<path d="M813.7 3498.2V3461.3M799.2 3461.3H828.2" stroke="#000" stroke-width="3.9" stroke-linecap="round" fill="none"/>
<rect x="798.1" y="3498.2" width="31.3" height="563.7" fill="url(#cQS)" stroke="#000" stroke-width="3.9"/>
<path d="M1056.9 3622V3589.5M1042.4 3589.5H1071.5" stroke="#000" stroke-width="3.9" stroke-linecap="round" fill="none"/>
<rect x="1041.3" y="3622" width="31.3" height="440" fill="url(#cQS)" stroke="#000" stroke-width="3.9"/>
<path d="M1300.2 3992.1V3974.4M1285.6 3974.4H1314.7" stroke="#000" stroke-width="3.9" stroke-linecap="round" fill="none"/>
<rect x="1284.5" y="3992.1" width="31.3" height="69.8" fill="url(#cQS)" stroke="#000" stroke-width="3.9"/>
<path d="M1543.4 3154.6V3127.1M1528.9 3127.1H1558" stroke="#000" stroke-width="3.9" stroke-linecap="round" fill="none"/>
<rect x="1527.8" y="3154.6" width="31.3" height="907.4" fill="url(#cQS)" stroke="#000" stroke-width="3.9"/>
<rect x="233" y="3011.9" width="1460" height="1050.1" fill="none" stroke="#000" stroke-width="3.9"/>
<path d="M217.5 4062H233" stroke="#000" stroke-width="3.3" stroke-linecap="round"/>
<text x="187.7" y="4079.8" font-size="56.5" text-anchor="end" stroke="#000" stroke-width="0.7">0</text>
<path d="M217.5 3871H233" stroke="#000" stroke-width="3.3" stroke-linecap="round"/>
<text x="187.7" y="3888.8" font-size="56.5" text-anchor="end" stroke="#000" stroke-width="0.7">20</text>
<path d="M217.5 3680.1H233" stroke="#000" stroke-width="3.3" stroke-linecap="round"/>
<text x="187.7" y="3697.9" font-size="56.5" text-anchor="end" stroke="#000" stroke-width="0.7">40</text>
<path d="M217.5 3489.2H233" stroke="#000" stroke-width="3.3" stroke-linecap="round"/>
<text x="187.7" y="3507" font-size="56.5" text-anchor="end" stroke="#000" stroke-width="0.7">60</text>
<path d="M217.5 3298.3H233" stroke="#000" stroke-width="3.3" stroke-linecap="round"/>
<text x="187.7" y="3316.1" font-size="56.5" text-anchor="end" stroke="#000" stroke-width="0.7">80</text>
<path d="M217.5 3107.4H233" stroke="#000" stroke-width="3.3" stroke-linecap="round"/>
<text x="187.7" y="3125.2" font-size="56.5" text-anchor="end" stroke="#000" stroke-width="0.7">100</text>
<text x="476.1" y="4141.3" font-size="56.5" text-anchor="middle" stroke="#000" stroke-width="0.7">20</text>
<text x="720.2" y="4141.3" font-size="56.5" text-anchor="middle" stroke="#000" stroke-width="0.7">50</text>
<text x="963" y="4141.3" font-size="56.5" text-anchor="middle" stroke="#000" stroke-width="0.7">100</text>
<text x="1206" y="4141.3" font-size="56.5" text-anchor="middle" stroke="#000" stroke-width="0.7">150</text>
<text x="1450" y="4141.3" font-size="56.5" text-anchor="middle" stroke="#000" stroke-width="0.7">CK</text>
<text transform="translate(964.2 4243) scale(0.983 1)" font-size="58.5" text-anchor="middle" stroke="#000" stroke-width="0.7">NaCl concentration / mM</text>
<text transform="translate(78.4 3533.4) rotate(-90) scale(0.965 1)" font-size="58.5" text-anchor="middle" stroke="#000" stroke-width="0.7">Germination rate / %</text>
<text x="385.2" y="3200.5" font-size="41" text-anchor="middle" stroke="#000" stroke-width="0.4">bc</text>
<text x="412.4" y="3225" font-size="41" text-anchor="middle" stroke="#000" stroke-width="0.4">c</text>
<text x="438.4" y="3176.3" font-size="41" text-anchor="middle" stroke="#000" stroke-width="0.4">bc</text>
<text x="478.9" y="3161.5" font-size="41" text-anchor="middle" stroke="#000" stroke-width="0.4">bc</text>
<text x="503.4" y="3136.4" font-size="41" text-anchor="middle" stroke="#000" stroke-width="0.4">bc</text>
<text x="535.1" y="3128.1" font-size="41" text-anchor="middle" stroke="#000" stroke-width="0.4">a</text>
<text x="576.5" y="3131" font-size="41" text-anchor="middle" stroke="#000" stroke-width="0.4">ab</text>
<text x="629.3" y="3517" font-size="41" text-anchor="middle" stroke="#000" stroke-width="0.4">a</text>
<text x="657.4" y="3543.6" font-size="41" text-anchor="middle" stroke="#000" stroke-width="0.4">a</text>
<text x="687.6" y="3472.6" font-size="41" text-anchor="middle" stroke="#000" stroke-width="0.4">a</text>
<text x="722.4" y="3457.8" font-size="41" text-anchor="middle" stroke="#000" stroke-width="0.4">a</text>
<text x="752" y="3463.2" font-size="41" text-anchor="middle" stroke="#000" stroke-width="0.4">a</text>
<text x="783.6" y="3449" font-size="41" text-anchor="middle" stroke="#000" stroke-width="0.4">a</text>
<text x="817.6" y="3438" font-size="41" text-anchor="middle" stroke="#000" stroke-width="0.4">a</text>
<text x="870.3" y="3855.8" font-size="41" text-anchor="middle" stroke="#000" stroke-width="0.4">e</text>
<text x="893.1" y="3834" font-size="41" text-anchor="middle" stroke="#000" stroke-width="0.4">de</text>
<text x="928.2" y="3765.3" font-size="41" text-anchor="middle" stroke="#000" stroke-width="0.4">de</text>
<text x="959.7" y="3725.8" font-size="41" text-anchor="middle" stroke="#000" stroke-width="0.4">cd</text>
<text x="985.9" y="3682.3" font-size="41" text-anchor="middle" stroke="#000" stroke-width="0.4">bc</text>
<text x="1012" y="3649.1" font-size="41" text-anchor="middle" stroke="#000" stroke-width="0.4">ab</text>
<text x="1056.2" y="3572.1" font-size="41" text-anchor="middle" stroke="#000" stroke-width="0.4">a</text>
<text x="1111.7" y="4022.7" font-size="41" text-anchor="middle" stroke="#000" stroke-width="0.4">cd</text>
<text x="1144.8" y="4034.5" font-size="41" text-anchor="middle" stroke="#000" stroke-width="0.4">d</text>
<text x="1168.5" y="3988.7" font-size="41" text-anchor="middle" stroke="#000" stroke-width="0.4">bc</text>
<text x="1192.1" y="3949.7" font-size="41" text-anchor="middle" stroke="#000" stroke-width="0.4">ab</text>
<text x="1236.7" y="3950.3" font-size="41" text-anchor="middle" stroke="#000" stroke-width="0.4">ab</text>
<text x="1269" y="3930.2" font-size="41" text-anchor="middle" stroke="#000" stroke-width="0.4">a</text>
<text x="1303" y="3957.7" font-size="41" text-anchor="middle" stroke="#000" stroke-width="0.4">ab</text>
<text x="1362.3" y="3114.8" font-size="41" text-anchor="middle" stroke="#000" stroke-width="0.4">a</text>
<text x="1389.2" y="3114.8" font-size="41" text-anchor="middle" stroke="#000" stroke-width="0.4">a</text>
<text x="1420.2" y="3127.5" font-size="41" text-anchor="middle" stroke="#000" stroke-width="0.4">a</text>
<text x="1448" y="3139.3" font-size="41" text-anchor="middle" stroke="#000" stroke-width="0.4">a</text>
<text x="1479.1" y="3117.2" font-size="41" text-anchor="middle" stroke="#000" stroke-width="0.4">a</text>
<text x="1513.3" y="3114.8" font-size="41" text-anchor="middle" stroke="#000" stroke-width="0.4">a</text>
<text x="1547.3" y="3111.8" font-size="41" text-anchor="middle" stroke="#000" stroke-width="0.4">a</text>
<rect x="1062.8" y="3032.8" width="237.3" height="412.8" fill="#fff" stroke="#000" stroke-width="3.5"/>
<rect x="1093" y="3070.8" width="92.9" height="30.2" fill="url(#cCH)" stroke="#000" stroke-width="3.7"/>
<text transform="translate(1209.8 3099.7) scale(0.965 1)" font-size="42.8">CH</text>
<rect x="1093" y="3122.1" width="92.9" height="30.2" fill="url(#cQR)" stroke="#000" stroke-width="3.7"/>
<text transform="translate(1209.8 3151) scale(0.965 1)" font-size="42.8">QR</text>
<rect x="1093" y="3173.3" width="92.9" height="30.2" fill="url(#cHS)"/>
<rect x="1093" y="3173.3" width="92.9" height="30.2" fill="url(#cHS2)" stroke="#000" stroke-width="3.7"/>
<text transform="translate(1209.8 3202.2) scale(0.965 1)" font-size="42.8">HS</text>
<rect x="1093" y="3224.7" width="92.9" height="30.2" fill="url(#cSM)" stroke="#000" stroke-width="3.7"/>
<text transform="translate(1209.8 3253.6) scale(0.965 1)" font-size="42.8">SM</text>
<rect x="1093" y="3275.9" width="92.9" height="30.2" fill="url(#cHK)" stroke="#000" stroke-width="3.7"/>
<text transform="translate(1209.8 3304.8) scale(0.965 1)" font-size="42.8">HK</text>
<rect x="1093" y="3327.2" width="92.9" height="30.2" fill="url(#cDC)" stroke="#000" stroke-width="3.7"/>
<text transform="translate(1209.8 3356.2) scale(0.965 1)" font-size="42.8">DC</text>
<rect x="1093" y="3378.6" width="92.9" height="30.2" fill="url(#cQS)" stroke="#000" stroke-width="3.7"/>
<text transform="translate(1209.8 3407.5) scale(0.965 1)" font-size="42.8">QS</text>
<text class="ser" x="886.5" y="4381.5" font-size="86" text-anchor="middle">(<tspan font-weight="bold" dx="-3">c</tspan><tspan dx="-3">)</tspan></text>
</g>
</svg></body></html>
